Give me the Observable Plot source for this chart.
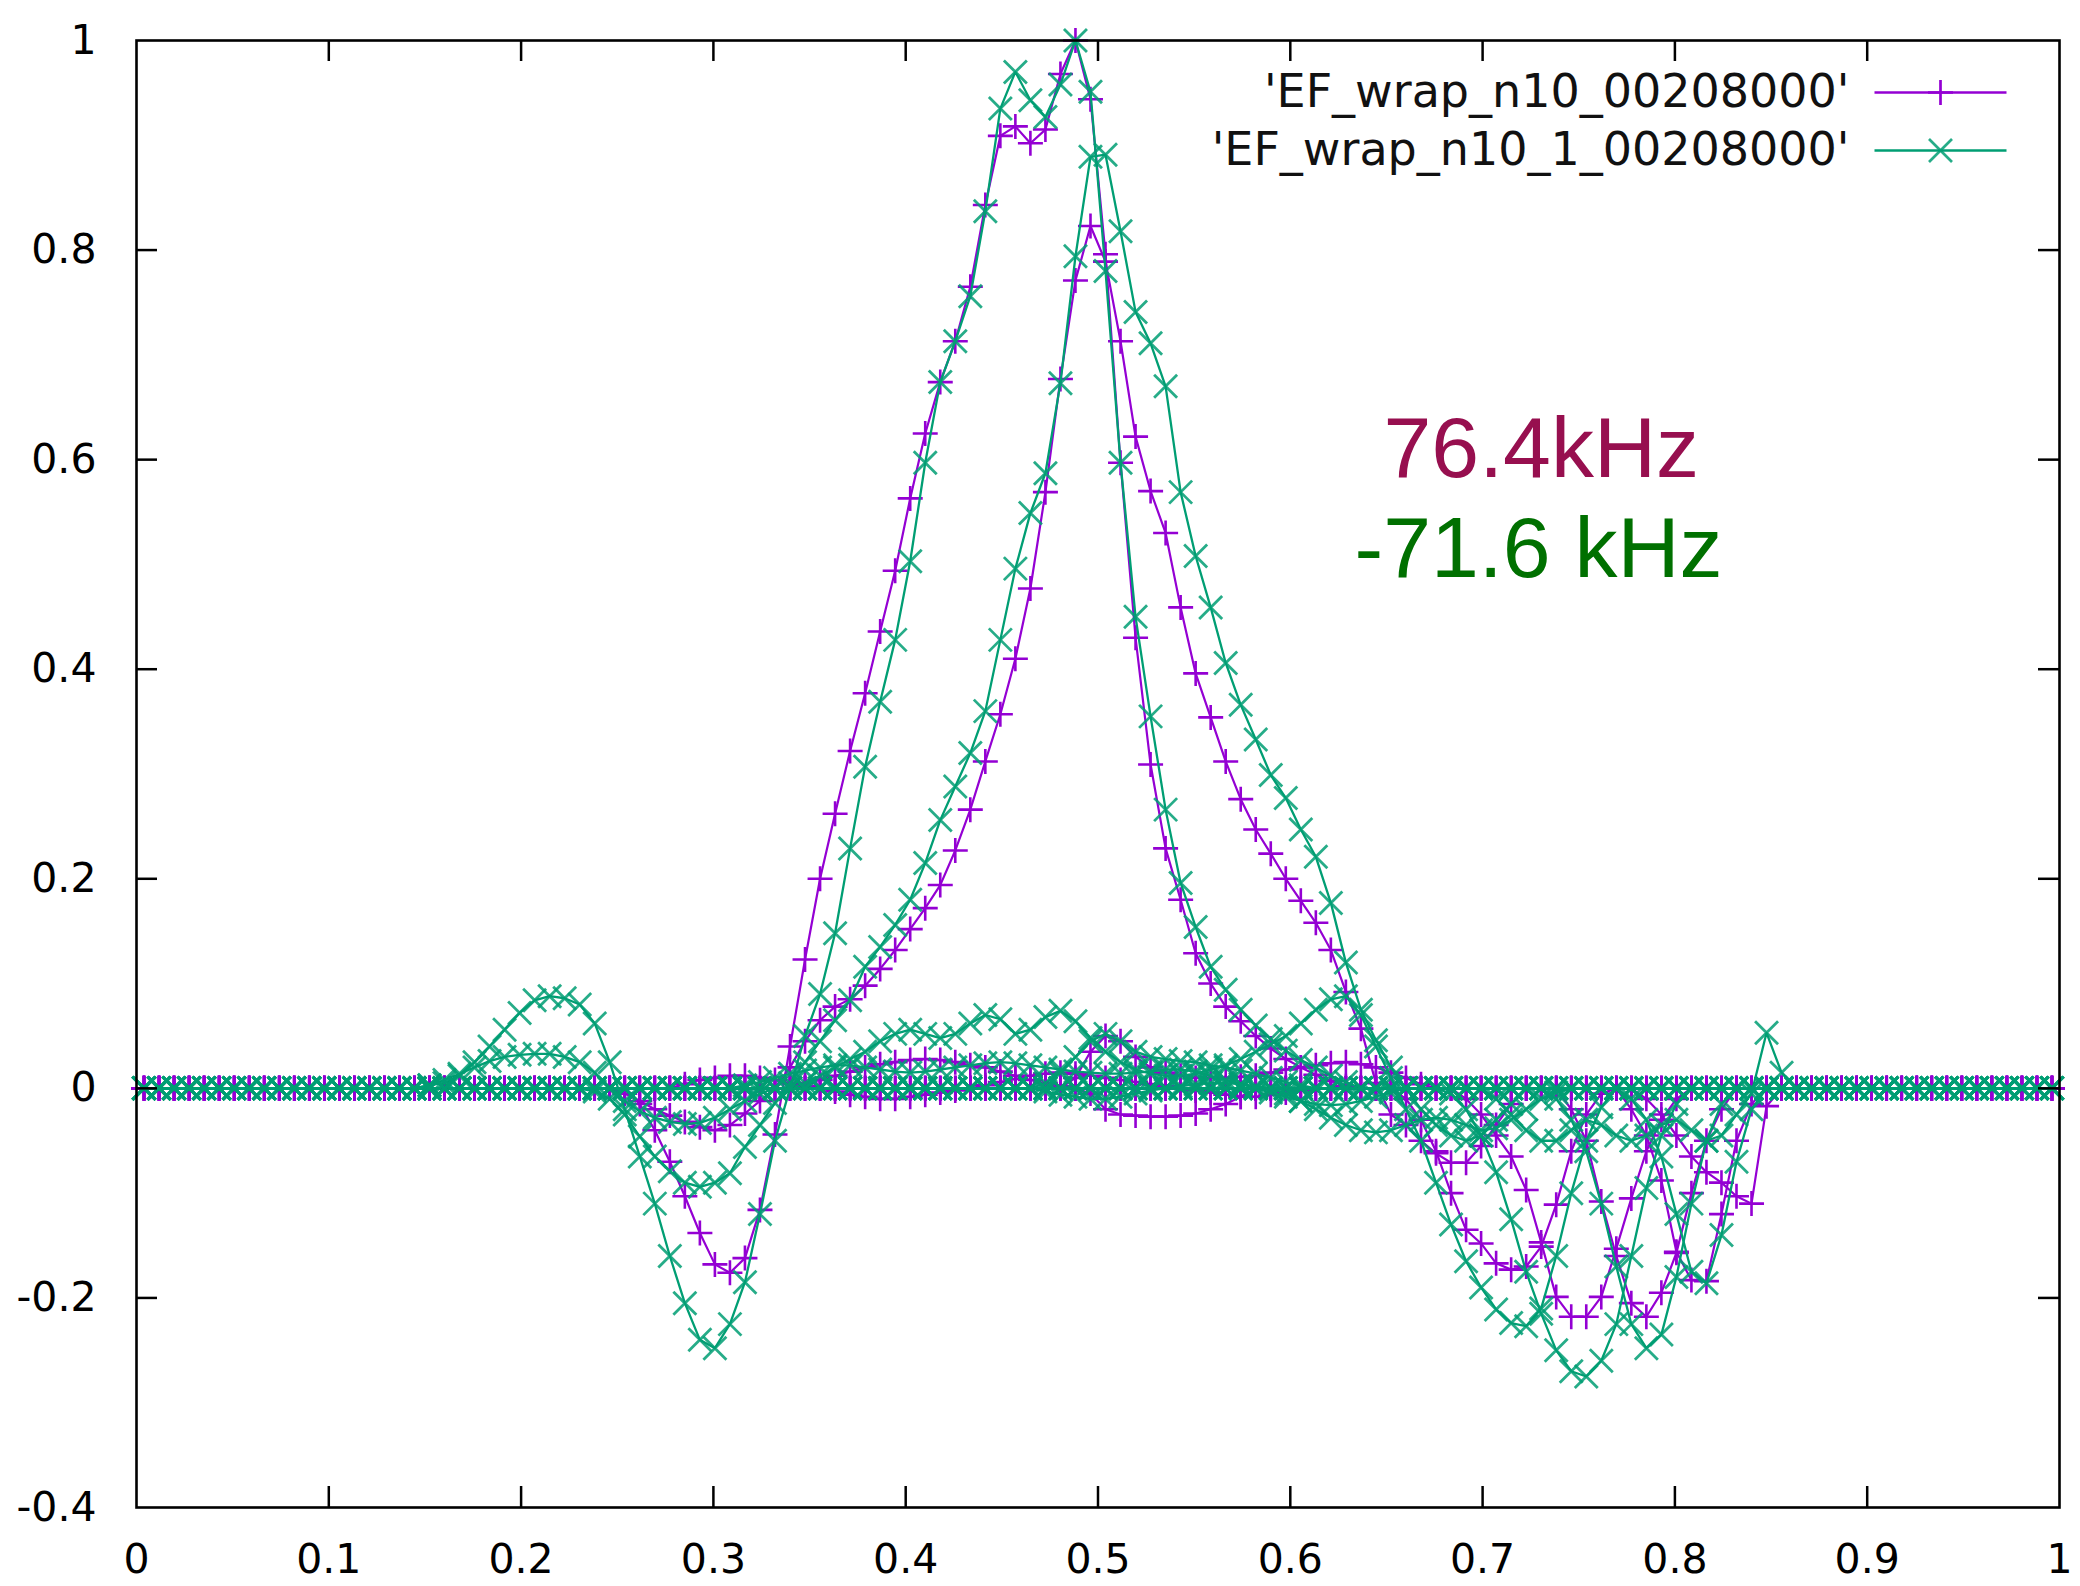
<!DOCTYPE html>
<html>
<head>
<meta charset="utf-8">
<script src="https://cdn.jsdelivr.net/npm/d3@7"></script>
<script src="https://cdn.jsdelivr.net/npm/@observablehq/plot@0.6"></script>
<style>
  html, body { margin: 0; padding: 0; background: #ffffff; }
  #chart { width: 2080px; height: 1586px; }
</style>
</head>
<body>
<div id="chart"></div>
<script>
// ---------------- data ----------------
// sample grid: 128 cell-centred points on [0, 1]
const N = 128;
const xs = Array.from({length: N}, (_, k) => (k + 0.5) / N);

// ticks
const xTicks = [0, 0.1, 0.2, 0.3, 0.4, 0.5, 0.6, 0.7, 0.8, 0.9, 1];
const xTickLabels = ["0", "0.1", "0.2", "0.3", "0.4", "0.5", "0.6", "0.7", "0.8", "0.9", "1"];
const yTicks = [-0.4, -0.2, 0, 0.2, 0.4, 0.6, 0.8, 1];
const yTickLabels = ["-0.4", "-0.2", "0", "0.2", "0.4", "0.6", "0.8", "1"];

// series names
const seriesNames = ["'EF_wrap_n10_00208000'", "'EF_wrap_n10_1_00208000'"];
const annotations = ["76.4kHz", "-71.6 kHz"];

// file 1 (purple, +) : each curve = first grid index + values (zero elsewhere)
const purple1 = {start: 33, y: [-0.015, -0.04, -0.07, -0.103, -0.138, -0.168, -0.176, -0.162, -0.116, -0.044, 0.04, 0.123, 0.2, 0.262, 0.322, 0.377, 0.436, 0.494, 0.563, 0.625, 0.674, 0.713, 0.765, 0.843, 0.909, 0.918, 0.902, 0.915, 0.968, 1.0, 0.944, 0.796, 0.597, 0.43, 0.309, 0.229, 0.18, 0.129, 0.1, 0.078, 0.064, 0.05, 0.038, 0.028, 0.02, 0.013, 0.007, 0.002, 0]};
const purple2 = {start: 32, y: [-0.005, -0.012, -0.02, -0.026, -0.032, -0.037, -0.04, -0.035, -0.024, -0.012, 0, 0.02, 0.045, 0.065, 0.078, 0.085, 0.098, 0.114, 0.132, 0.152, 0.172, 0.194, 0.227, 0.266, 0.312, 0.357, 0.41, 0.477, 0.569, 0.677, 0.771, 0.823, 0.789, 0.713, 0.622, 0.57, 0.53, 0.459, 0.396, 0.354, 0.312, 0.276, 0.247, 0.224, 0.2, 0.179, 0.158, 0.132, 0.092, 0.057, 0.005, -0.025, -0.035, -0.05, -0.062, -0.071, -0.071, -0.055, -0.035, -0.015, 0]};
const purple3 = {start: 44, y: [0.005, 0.008, 0.012, 0.016, 0.02, 0.023, 0.025, 0.027, 0.028, 0.027, 0.025, 0.022, 0.02, 0.016, 0.012, 0.008, 0.005, 0.002, 0, 0, 0, 0, 0, 0, 0, 0, 0, 0, 0, 0, 0, 0, 0, 0, 0, 0, 0, 0, 0, 0, -0.01, -0.03, -0.06, -0.1, -0.135, -0.148, -0.167, -0.173, -0.17, -0.151, -0.111, -0.06, -0.025, -0.005, 0]};
const purple4 = {start: 63, y: [-0.005, -0.02, -0.025, -0.026, -0.027, -0.027, -0.026, -0.024, -0.02, -0.015, -0.008, 0, 0, 0, 0, 0, 0, 0, 0, 0, 0, 0, 0, 0, 0, -0.01, -0.025, -0.045, -0.065, -0.097, -0.147, -0.199, -0.218, -0.218, -0.199, -0.153, -0.105, -0.06, -0.03, -0.01, 0]};
const purple5 = {start: 62, y: [0.01, 0.035, 0.05, 0.045, 0.03, 0.02, 0.015, 0.012, 0.01, 0.01, 0.01, 0.011, 0.012, 0.015, 0.018, 0.02, 0.022, 0.024, 0.025, 0.023, 0.02, 0.015, 0.01, 0.004, 0, 0, 0, 0, 0, 0, 0, 0, 0, -0.02, -0.05, -0.108, -0.16, -0.205, -0.218, -0.195, -0.157, -0.1, -0.05, -0.02, 0]};
const purple6 = {start: 99, y: [-0.02, -0.045, -0.088, -0.156, -0.183, -0.184, -0.12, -0.05, -0.015, 0]};
const purple7 = {start: 100, y: [-0.01, -0.025, -0.045, -0.065, -0.08, -0.09, -0.103, -0.11, -0.017, 0]};
const purple8 = {start: 36, y: [0.004, 0.008, 0.01, 0.012, 0.012, 0.01, 0.008, 0.005, 0.002, 0, -0.003, -0.006, -0.008, -0.01, -0.01, -0.008, -0.006, -0.004, -0.002, 0, 0.003, 0.006, 0.009, 0.012, 0.014, 0.015, 0.014, 0.012, 0.01, 0.008, 0.006, 0.004, 0.002, 0, -0.002, -0.004, -0.006, -0.008, -0.008, -0.006, -0.004, -0.002, 0]};

// file 2 (teal, x)
const teal1 = {start: 19, y: [0.003, 0.005, 0.012, 0.025, 0.04, 0.056, 0.072, 0.084, 0.088, 0.086, 0.08, 0.062, 0.025, -0.02, -0.065, -0.11, -0.16, -0.205, -0.24, -0.248, -0.225, -0.185, -0.12, -0.05, 0, 0.05, 0.09, 0.148, 0.229, 0.307, 0.369, 0.428, 0.503, 0.597, 0.674, 0.713, 0.756, 0.837, 0.935, 0.97, 0.943, 0.927, 0.958, 1.0, 0.951, 0.78, 0.597, 0.45, 0.355, 0.266, 0.196, 0.154, 0.116, 0.094, 0.075, 0.06, 0.047, 0.036, 0.027, 0.02, 0.012, 0.006, 0]};
const teal2 = {start: 30, y: [-0.003, -0.01, -0.025, -0.046, -0.065, -0.079, -0.09, -0.094, -0.09, -0.081, -0.056, -0.035, -0.014, 0.005, 0.025, 0.045, 0.065, 0.084, 0.116, 0.135, 0.156, 0.18, 0.215, 0.256, 0.288, 0.32, 0.36, 0.428, 0.496, 0.549, 0.587, 0.673, 0.794, 0.889, 0.891, 0.818, 0.741, 0.711, 0.67, 0.569, 0.508, 0.459, 0.406, 0.366, 0.333, 0.299, 0.277, 0.247, 0.221, 0.177, 0.12, 0.075, 0.046, 0.02, 0, -0.02, -0.035, -0.045, -0.05, -0.045, -0.03, -0.015, 0]};
const teal3 = {start: 44, y: [0.005, 0.012, 0.02, 0.028, 0.035, 0.045, 0.052, 0.056, 0.052, 0.048, 0.052, 0.062, 0.07, 0.066, 0.052, 0.056, 0.068, 0.074, 0.064, 0.048, 0.035, 0.025, 0.018, 0.014, 0.012, 0.012, 0.014, 0.018, 0.022, 0.028, 0.035, 0.042, 0.05, 0.062, 0.075, 0.085, 0.088, 0.07, 0.04, 0.01, -0.02, -0.05, -0.09, -0.13, -0.165, -0.19, -0.211, -0.224, -0.227, -0.21, -0.16, -0.1, -0.05, -0.018, 0]};
const teal4 = {start: 87, y: [-0.005, -0.02, -0.045, -0.08, -0.125, -0.175, -0.215, -0.25, -0.27, -0.275, -0.26, -0.225, -0.16, -0.095, -0.045, -0.015, 0]};
const teal5 = {start: 94, y: [-0.01, -0.03, -0.06, -0.11, -0.17, -0.225, -0.248, -0.235, -0.18, -0.11, -0.05, -0.015, 0]};
const teal6 = {start: 99, y: [-0.01, -0.03, -0.065, -0.12, -0.175, -0.186, -0.14, -0.07, -0.02, 0]};
const teal7 = {start: 90, y: [-0.01, -0.025, -0.04, -0.05, -0.05, -0.04, -0.03, -0.035, -0.045, -0.05, -0.045, -0.035, -0.03, -0.04, -0.05, -0.045, -0.025, -0.005, 0.053, 0.015, 0]};
const teal8 = {start: 19, y: [0.003, 0.008, 0.014, 0.02, 0.026, 0.03, 0.032, 0.033, 0.033, 0.03, 0.025, 0.015, 0, -0.012, -0.022, -0.028, -0.032, -0.034, -0.033, -0.028, -0.02, -0.012, -0.005, 0, 0, 0, 0, 0, 0, 0, 0, 0, 0, 0, 0, 0, 0, 0, 0, 0, 0, 0.005, 0.015, 0.03, 0.045, 0.052, 0.045, 0.035, 0.03, 0.028, 0.026, 0.025, 0.022, 0.02, 0.017, 0.014, 0.01, 0.006, 0.003, 0]};
const teal9 = {start: 40, y: [0.003, 0.006, 0.01, 0.014, 0.017, 0.02, 0.022, 0.022, 0.02, 0.018, 0.016, 0.015, 0.016, 0.018, 0.02, 0.022, 0.024, 0.025, 0.024, 0.022, 0.02, 0.018, 0.016, 0.015, 0.014, 0.014, 0.015, 0.016, 0.018, 0.018, 0.016, 0.012, 0.008, 0.004, 0, -0.004, -0.008, -0.012, -0.015, -0.016, -0.015, -0.012, -0.008, -0.004, 0]};
const teal10 = {start: 60, y: [-0.003, -0.006, -0.008, -0.01, -0.01, -0.008, -0.005, -0.002, 0, 0.002, 0.004, 0.005, 0.005, 0.004, 0.002, 0, -0.005, -0.012, -0.02, -0.028, -0.035, -0.04, -0.042, -0.04, -0.035, -0.03, -0.028, -0.03, -0.035, -0.04, -0.038, -0.03, -0.02, -0.01, -0.004, 0]};

const purpleCurves = [purple1, purple2, purple3, purple4, purple5, purple6, purple7, purple8];
const tealCurves = [teal1, teal2, teal3, teal4, teal5, teal6, teal7, teal8, teal9, teal10];

// ---------------- build ----------------
function rowsFor(curves, tag) {
  const rows = [];
  curves.forEach((c, ci) => {
    const y = new Array(N).fill(0);
    c.y.forEach((v, i) => { y[c.start + i] = v; });
    for (let k = 0; k < N; k++) rows.push({id: tag + ci, x: xs[k], y: y[k]});
  });
  return rows;
}
const purpleRows = rowsFor(purpleCurves, "p");
const tealRows = rowsFor(tealCurves, "t");

const PURPLE = "#9400d3";
const TEAL = "#009e73";

const plusSymbol = {draw(ctx, size) { const r = Math.sqrt(size / Math.PI); ctx.moveTo(-r, 0); ctx.lineTo(r, 0); ctx.moveTo(0, -r); ctx.lineTo(0, r); }};
const timesSymbol = {draw(ctx, size) { const r = Math.sqrt(size / Math.PI); ctx.moveTo(-r, -r); ctx.lineTo(r, r); ctx.moveTo(-r, r); ctx.lineTo(r, -r); }};
const dashSymbol = {draw(ctx, size) { const r = Math.sqrt(size / Math.PI); ctx.moveTo(-r, 0); ctx.lineTo(r, 0); }};

const W = 2080, H = 1586;
const mL = 136, mR = 21, mT = 40, mB = 79;
const frameW = W - mL - mR, frameH = H - mT - mB;
const TICK = 21;

const legendMarks = seriesNames.flatMap((name, i) => {
  const color = i === 0 ? PURPLE : TEAL;
  const dy = i === 0 ? 52 : 110;
  return [
    Plot.text([name], {frameAnchor: "top-right", text: d => d, dx: -210, dy, textAnchor: "end", lineAnchor: "middle", fontSize: 46, fill: "#111"}),
    Plot.dot([name], {frameAnchor: "top-right", dx: -119, dy, symbol: dashSymbol, r: 66, stroke: color, strokeWidth: 2.4, fill: "none"}),
    Plot.dot([name], {frameAnchor: "top-right", dx: -119, dy, symbol: i === 0 ? plusSymbol : timesSymbol, r: i === 0 ? 12.5 : 11.5, stroke: color, strokeOpacity: i === 0 ? 1 : 0.85, strokeWidth: 2.7, fill: "none"})
  ];
});

const chart = Plot.plot({
  width: W,
  height: H,
  marginLeft: mL,
  marginRight: mR,
  marginTop: mT,
  marginBottom: mB,
  style: {fontFamily: "DejaVu Sans", fontSize: "41px", background: "#ffffff", color: "#000"},
  x: {domain: [0, 1]},
  y: {domain: [-0.4, 1]},
  marks: [
    // data
    Plot.line(purpleRows, {x: "x", y: "y", z: "id", stroke: PURPLE, strokeWidth: 2.2}),
    Plot.dot(purpleRows, {x: "x", y: "y", symbol: plusSymbol, r: 12.5, stroke: PURPLE, strokeWidth: 2.6, fill: "none"}),
    Plot.line(tealRows, {x: "x", y: "y", z: "id", stroke: TEAL, strokeWidth: 2.3}),
    Plot.dot(tealRows, {x: "x", y: "y", symbol: timesSymbol, r: 11.5, stroke: TEAL, strokeOpacity: 0.85, strokeWidth: 2.8, fill: "none"}),
    // inward ticks on all four sides
    Plot.tickX(xTicks.slice(1, -1), {x: d => d, insetTop: frameH - TICK, stroke: "#000", strokeWidth: 2.5}),
    Plot.tickX(xTicks.slice(1, -1), {x: d => d, insetBottom: frameH - TICK, stroke: "#000", strokeWidth: 2.5}),
    Plot.tickY(yTicks.slice(1, -1), {y: d => d, insetRight: frameW - TICK, stroke: "#000", strokeWidth: 2.5}),
    Plot.tickY(yTicks.slice(1, -1), {y: d => d, insetLeft: frameW - TICK, stroke: "#000", strokeWidth: 2.5}),
    Plot.frame({stroke: "#000", strokeWidth: 2.6}),
    // tick labels
    Plot.axisX(xTicks, {tickSize: 0, tickPadding: 36, fontSize: 41, label: null, tickFormat: (d, i) => xTickLabels[i]}),
    Plot.axisY(yTicks, {tickSize: 0, tickPadding: 40, fontSize: 41, label: null, tickFormat: (d, i) => yTickLabels[i]}),
    // legend
    ...legendMarks,
    // annotations
    Plot.text([annotations[0]], {frameAnchor: "top-left", text: d => d, dx: 1247, dy: 436, textAnchor: "start", lineAnchor: "bottom", fontSize: 86, fontFamily: "Liberation Sans", fill: "#970f4f"}),
    Plot.text([annotations[1]], {frameAnchor: "top-left", text: d => d, dx: 1218, dy: 536, textAnchor: "start", lineAnchor: "bottom", fontSize: 86, fontFamily: "Liberation Sans", fill: "#007000"})
  ]
});
document.getElementById("chart").appendChild(chart);
</script>
</body>
</html>
